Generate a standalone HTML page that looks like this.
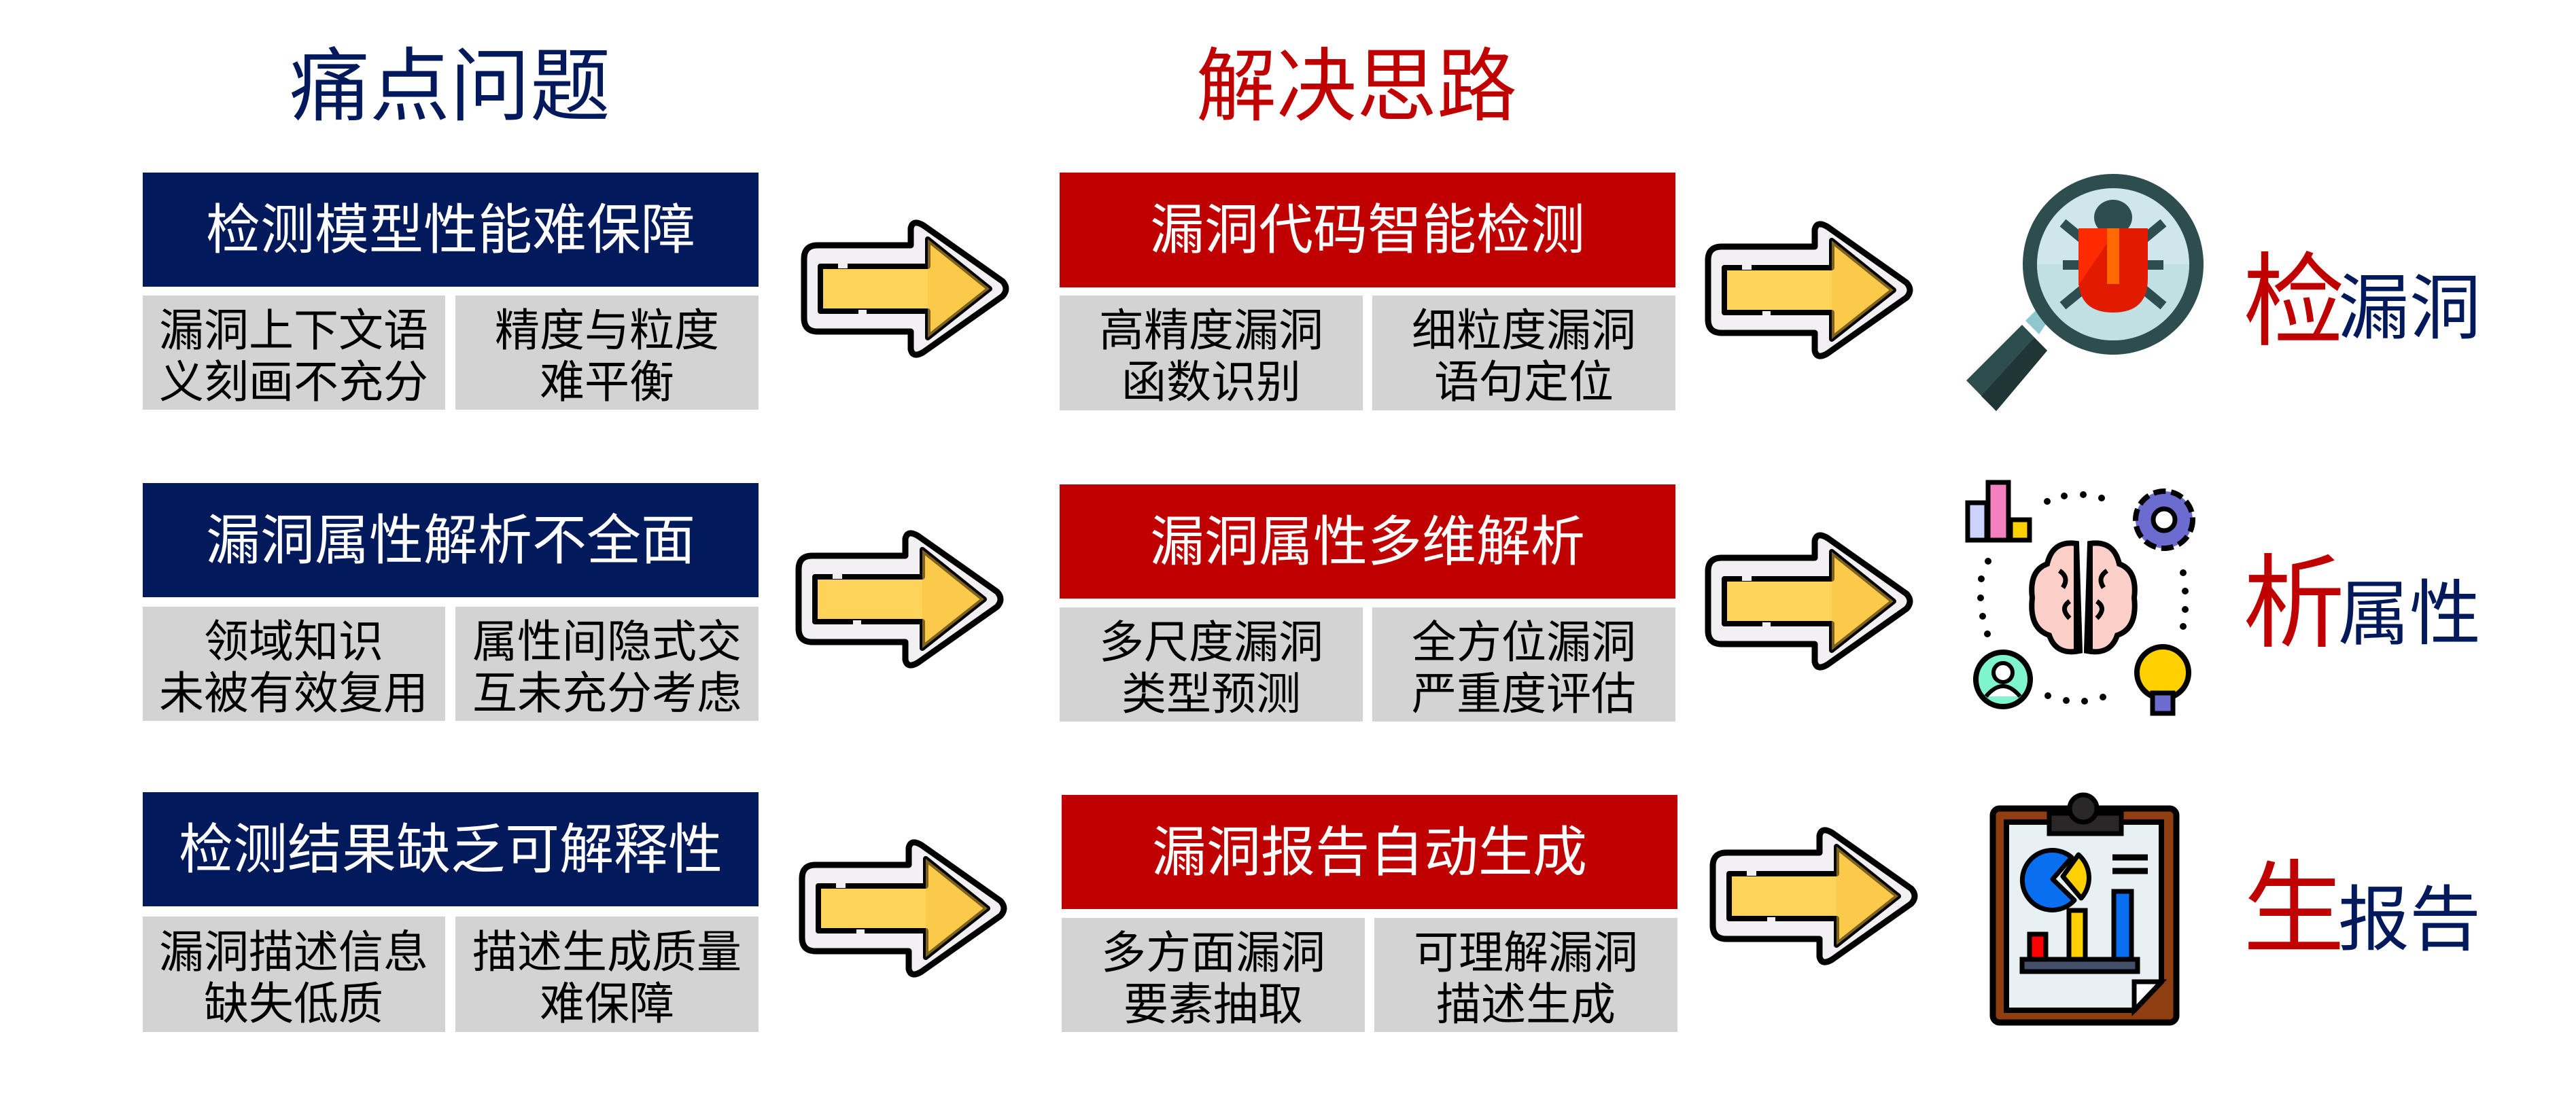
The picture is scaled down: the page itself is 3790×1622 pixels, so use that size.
<!DOCTYPE html>
<html><head><meta charset="utf-8"><style>
html,body{margin:0;padding:0;background:#fff;}
svg{display:block;}
text{font-family:"Liberation Sans","Noto Sans CJK SC",sans-serif;}
</style></head><body>
<svg width="3790" height="1622" viewBox="0 0 3790 1622" xmlns="http://www.w3.org/2000/svg">
<defs>
<g id="arr">
<path d="M20,33 H157 V8 Q160,-6 176,4 L292,86 Q302,97 292,108 L176,190 Q160,200 157,186 V160 H20 Q0,160 0,140 V53 Q0,33 20,33 Z" fill="#f2f0f3" stroke="#000" stroke-width="9" stroke-linejoin="round"/>
<path d="M24,64 H182 V24 L273,97 L182,169 V130 H24 Z" fill="#fdd35a" stroke="#000" stroke-width="8" stroke-linejoin="round"/>
<path d="M182,24 L273,97 L182,169 Z" fill="#fcc13a" opacity="0.5"/>
<rect x="50" y="55" width="14" height="12" fill="#f2f0f3"/>
<rect x="80" y="128" width="12" height="12" fill="#f2f0f3"/>
</g>
</defs>

<text x="662" y="168" font-size="118" fill="#021a5b" text-anchor="middle">痛点问题</text>
<text x="1996" y="168" font-size="118" fill="#c00000" text-anchor="middle">解决思路</text>

<g font-size="80" fill="#fff" text-anchor="middle">
<rect x="210" y="254" width="906" height="168" fill="#021a5b"/>
<text x="663" y="366">检测模型性能难保障</text>
<rect x="210" y="711" width="906" height="168" fill="#021a5b"/>
<text x="663" y="823">漏洞属性解析不全面</text>
<rect x="210" y="1166" width="906" height="168" fill="#021a5b"/>
<text x="663" y="1278">检测结果缺乏可解释性</text>
</g>
<g fill="#d3d3d3">
<rect x="210" y="435" width="445" height="168"/><rect x="670" y="435" width="446" height="168"/>
<rect x="210" y="893" width="445" height="168"/><rect x="670" y="893" width="446" height="168"/>
<rect x="210" y="1349" width="445" height="170"/><rect x="670" y="1349" width="446" height="170"/>
</g>
<g font-size="66" fill="#000" text-anchor="middle">
<text x="432" y="509">漏洞上下文语</text><text x="432" y="585">义刻画不充分</text>
<text x="893" y="509">精度与粒度</text><text x="893" y="585">难平衡</text>
<text x="432" y="967">领域知识</text><text x="432" y="1043">未被有效复用</text>
<text x="893" y="967">属性间隐式交</text><text x="893" y="1043">互未充分考虑</text>
<text x="432" y="1424">漏洞描述信息</text><text x="432" y="1500">缺失低质</text>
<text x="893" y="1424">描述生成质量</text><text x="893" y="1500">难保障</text>
</g>

<g font-size="80" fill="#fff" text-anchor="middle">
<rect x="1559" y="254" width="906" height="169" fill="#c00000"/>
<text x="2012" y="366">漏洞代码智能检测</text>
<rect x="1559" y="713" width="906" height="168" fill="#c00000"/>
<text x="2012" y="825">漏洞属性多维解析</text>
<rect x="1562" y="1170" width="906" height="168" fill="#c00000"/>
<text x="2015" y="1282">漏洞报告自动生成</text>
</g>
<g fill="#d3d3d3">
<rect x="1559" y="435" width="446" height="169"/><rect x="2019" y="435" width="446" height="169"/>
<rect x="1559" y="894" width="446" height="168"/><rect x="2019" y="894" width="446" height="168"/>
<rect x="1562" y="1351" width="446" height="168"/><rect x="2022" y="1351" width="446" height="168"/>
</g>
<g font-size="66" fill="#000" text-anchor="middle">
<text x="1782" y="509">高精度漏洞</text><text x="1782" y="585">函数识别</text>
<text x="2242" y="509">细粒度漏洞</text><text x="2242" y="585">语句定位</text>
<text x="1782" y="968">多尺度漏洞</text><text x="1782" y="1044">类型预测</text>
<text x="2242" y="968">全方位漏洞</text><text x="2242" y="1044">严重度评估</text>
<text x="1785" y="1425">多方面漏洞</text><text x="1785" y="1501">要素抽取</text>
<text x="2245" y="1425">可理解漏洞</text><text x="2245" y="1501">描述生成</text>
</g>

<use href="#arr" x="1183" y="328"/>
<use href="#arr" x="1175" y="785"/>
<use href="#arr" x="1180" y="1240"/>
<use href="#arr" x="2513" y="330"/>
<use href="#arr" x="2513" y="788"/>
<use href="#arr" x="2520" y="1222"/>

<polygon points="2893,560 2975,478 3012,516 2937,605" fill="#2e4d4e"/>
<polygon points="2915,583 2993,497 3012,516 2937,605" fill="#203535"/>
<polygon points="2980,472 3005,447 3020,462 3000,492" fill="#8fc7cf"/>
<circle cx="3109" cy="389" r="133" fill="#2e4d4e"/>
<circle cx="3109" cy="389" r="112" fill="#cfe6ec"/>
<path d="M3109,389 m-112,0 a112,112 0 0 0 224,0 Z" fill="#b5dce0" opacity="0.6"/>
<g stroke="#2e4d4e" stroke-width="14">
<line x1="3035" y1="328" x2="3183" y2="450"/><line x1="3183" y1="328" x2="3035" y2="450"/>
<line x1="3035" y1="390" x2="3183" y2="390"/>
</g>
<ellipse cx="3109" cy="320" rx="28" ry="26" fill="#2e4d4e"/>
<path d="M3058,336 H3160 V410 Q3160,460 3109,460 Q3058,460 3058,410 Z" fill="#e21a00"/>
<path d="M3058,336 H3115 L3058,420 Z" fill="#ff2a00"/>
<rect x="3100" y="336" width="18" height="82" fill="#ff6a00"/>
<text x="3300" y="496" font-size="150" fill="#c00000">检</text>
<text x="3440" y="490" font-size="105" fill="#021a5b">漏洞</text>

<g fill="#000">
<circle cx="3012" cy="738" r="5"/><circle cx="3037" cy="730" r="5"/><circle cx="3065" cy="728" r="5"/><circle cx="3092" cy="733" r="5"/>
<circle cx="2925" cy="826" r="5"/><circle cx="2915" cy="852" r="5"/><circle cx="2914" cy="880" r="5"/><circle cx="2917" cy="907" r="5"/><circle cx="2924" cy="933" r="5"/>
<circle cx="3212" cy="843" r="5"/><circle cx="3215" cy="870" r="5"/><circle cx="3215" cy="897" r="5"/><circle cx="3212" cy="922" r="5"/>
<circle cx="3013" cy="1024" r="5"/><circle cx="3040" cy="1031" r="5"/><circle cx="3067" cy="1032" r="5"/><circle cx="3094" cy="1026" r="5"/>
</g>
<rect x="2895" y="740" width="28" height="55" fill="#cdd3ff" stroke="#000" stroke-width="7"/>
<rect x="2925" y="710" width="30" height="85" fill="#f480c0" stroke="#000" stroke-width="7"/>
<rect x="2958" y="765" width="28" height="30" fill="#ffd000" stroke="#000" stroke-width="7"/>
<path d="M3055,800 Q3020,795 3012,830 Q2985,840 2990,880 Q2985,925 3015,935 Q3025,965 3060,958 Z" fill="#fcd0c8" stroke="#000" stroke-width="8"/>
<path d="M3075,800 Q3110,795 3118,830 Q3145,840 3140,880 Q3145,925 3115,935 Q3105,965 3070,958 Z" fill="#fcd0c8" stroke="#000" stroke-width="8"/>
<path d="M3055,800 V958 M3075,800 V958" stroke="#000" stroke-width="8" fill="none"/>
<path d="M3030,840 q15,10 5,25 M3045,885 q-15,10 0,25 M3100,840 q-15,10 -5,25 M3085,885 q15,10 0,25" stroke="#000" stroke-width="7" fill="none"/>
<circle cx="3184" cy="765" r="42" fill="#6b6bd0" stroke="#000" stroke-width="8" stroke-dasharray="18 8"/>
<circle cx="3184" cy="765" r="16" fill="#fff" stroke="#000" stroke-width="7"/>
<circle cx="2947" cy="1000" r="40" fill="#7ef5cc" stroke="#000" stroke-width="8"/>
<circle cx="2947" cy="990" r="14" fill="#fff" stroke="#000" stroke-width="6"/>
<path d="M2922,1025 q25,-30 50,0" fill="#fff" stroke="#000" stroke-width="6"/>
<circle cx="3182" cy="990" r="38" fill="#ffd000" stroke="#000" stroke-width="8"/>
<rect x="3167" y="1020" width="30" height="30" fill="#6b6bd0" stroke="#000" stroke-width="7"/>
<text x="3300" y="940" font-size="150" fill="#c00000">析</text>
<text x="3440" y="940" font-size="105" fill="#021a5b">属性</text>

<rect x="2932" y="1190" width="270" height="315" rx="10" fill="#8e3e10" stroke="#000" stroke-width="9"/>
<path d="M2952,1210 H3180 V1445 L3140,1487 H2952 Z" fill="#e8f0f4" stroke="#000" stroke-width="8"/>
<path d="M3140,1487 V1445 H3180 Z" fill="#fff" stroke="#000" stroke-width="7"/>
<rect x="3015" y="1197" width="106" height="30" fill="#2a2728" stroke="#000" stroke-width="7"/>
<circle cx="3065" cy="1190" r="20" fill="#2a2728" stroke="#000" stroke-width="7"/>
<path d="M3020,1294 L3048,1262 A44,44 0 1 0 3052,1325 Z" fill="#0a6ef0" stroke="#000" stroke-width="7" stroke-linejoin="round"/>
<path d="M3058,1258 L3035,1290 L3062,1322 A45,45 0 0 0 3058,1258 Z" fill="#ffd000" stroke="#000" stroke-width="7" stroke-linejoin="round"/>
<path d="M3108,1262 H3160 M3108,1282 H3160" stroke="#000" stroke-width="9"/>
<rect x="2986" y="1375" width="24" height="40" fill="#f00" stroke="#000" stroke-width="7"/>
<rect x="3044" y="1340" width="24" height="75" fill="#ffd000" stroke="#000" stroke-width="7"/>
<rect x="3110" y="1312" width="26" height="103" fill="#0a6ef0" stroke="#000" stroke-width="7"/>
<rect x="2975" y="1412" width="170" height="18" fill="#44506a" stroke="#000" stroke-width="7"/>
<text x="3300" y="1390" font-size="150" fill="#c00000">生</text>
<text x="3440" y="1390" font-size="105" fill="#021a5b">报告</text>
</svg>
</body></html>
